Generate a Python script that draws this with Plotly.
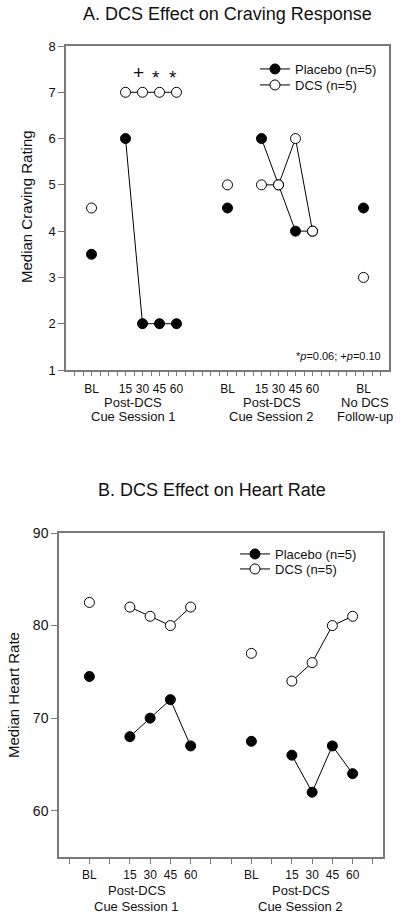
import plotly.graph_objects as go

FONT = "Arial, Liberation Sans, sans-serif"
W, H = 400, 918

# ---------------- Panel A data: craving ----------------
a_positions = [1, 3, 4, 5, 6, 9, 11, 12, 13, 14, 17]
a_segments = [0, 1, 1, 1, 1, 2, 3, 3, 3, 3, 4]
a_placebo = [3.5, 6, 2, 2, 2, 4.5, 6, 5, 4, 4, 4.5]
a_dcs = [4.5, 7, 7, 7, 7, 5, 5, 5, 6, 4, 3]
a_tick_labels = ["BL", "15", "30", "45", "60", "BL", "15", "30", "45", "60", "BL"]
a_group_centers = [3.45, 11.6, 17.1]
a_group_line1 = ["Post-DCS", "Post-DCS", "No DCS"]
a_group_line2 = ["Cue Session 1", "Cue Session 2", "Follow-up"]
a_sig_positions = [4, 5, 6]
a_sig_labels = ["+", "*", "*"]
a_sig_values = [7.42, 7.32, 7.32]
a_yticks = [1, 2, 3, 4, 5, 6, 7, 8]

# ---------------- Panel B data: heart rate ----------------
b_positions = [1, 3, 4, 5, 6, 9, 11, 12, 13, 14]
b_segments = [0, 1, 1, 1, 1, 2, 3, 3, 3, 3]
b_placebo = [74.5, 68, 70, 72, 67, 67.5, 66, 62, 67, 64]
b_dcs = [82.5, 82, 81, 80, 82, 77, 74, 76, 80, 81]
b_tick_labels = ["BL", "15", "30", "45", "60", "BL", "15", "30", "45", "60"]
b_group_centers = [3.35, 11.45]
b_group_line1 = ["Post-DCS", "Post-DCS"]
b_group_line2 = ["Cue Session 1", "Cue Session 2"]
b_yticks = [60, 70, 80, 90]

series_names = ["Placebo (n=5)", "DCS (n=5)"]


def gapped(xs, ys, segs):
    ox, oy = [], []
    prev = None
    for x, y, s in zip(xs, ys, segs):
        if prev is not None and s != prev:
            ox.append(None)
            oy.append(None)
        ox.append(x)
        oy.append(y)
        prev = s
    return ox, oy


fig = go.Figure()

AX_COLOR = "#7a7a7a"
TXT = "#111"


def add_series(xs, ys, segs, name, filled, xa, ya, legend):
    gx, gy = gapped(xs, ys, segs)
    fig.add_trace(go.Scatter(
        x=gx, y=gy, mode="lines+markers", name=name,
        xaxis=xa, yaxis=ya, legend=legend, connectgaps=False,
        line=dict(color="black", width=1),
        marker=dict(size=10, color="black" if filled else "white",
                    line=dict(color="black", width=1)),
        cliponaxis=False,
    ))


add_series(a_positions, a_placebo, a_segments, series_names[0], True, "x", "y", "legend")
add_series(a_positions, a_dcs, a_segments, series_names[1], False, "x", "y", "legend2")
add_series(b_positions, b_placebo, b_segments, series_names[0], True, "x2", "y2", "legend3")
add_series(b_positions, b_dcs, b_segments, series_names[1], False, "x2", "y2", "legend4")


def tick_map(minv, maxv, step, positions, labels):
    vals, texts = [], []
    n = int(round((maxv - minv) / step))
    lab = dict(zip(positions, labels))
    for i in range(n + 1):
        v = minv + i * step
        vals.append(v)
        texts.append(lab.get(v, ""))
    return vals, texts


a_tv, a_tt = tick_map(0, 18, 0.5, a_positions, a_tick_labels)
b_tv, b_tt = tick_map(0, 15, 1, b_positions, b_tick_labels)


def axis(**kw):
    d = dict(showline=True, linecolor=AX_COLOR, linewidth=1.5, mirror=True,
             ticks="outside", tickcolor=AX_COLOR, tickwidth=1, showgrid=False,
             zeroline=False, automargin=False, tickmode="array", fixedrange=True)
    d.update(kw)
    return d


def legend_at(xpx, ypx):
    return dict(x=xpx / W, y=1 - ypx / H, xanchor="left", yanchor="middle",
                bgcolor="rgba(0,0,0,0)", borderwidth=0,
                font=dict(family=FONT, size=13, color=TXT))


fig.update_layout(
    width=W, height=H, autosize=False,
    margin=dict(l=0, r=0, t=0, b=0, pad=0, autoexpand=False),
    paper_bgcolor="white", plot_bgcolor="white",
    font=dict(family=FONT, color=TXT),
    xaxis=axis(domain=[66 / W, 389 / W], range=[-0.5, 18.5], tickvals=a_tv, ticktext=a_tt,
               ticklen=4, anchor="y", ticklabelstandoff=3,
               tickfont=dict(family=FONT, size=12, color=TXT)),
    yaxis=axis(domain=[1 - 370 / H, 1 - 46 / H], range=[1, 8], tickvals=a_yticks,
               ticklen=6, anchor="x", tickfont=dict(family=FONT, size=13, color=TXT)),
    xaxis2=axis(domain=[59 / W, 383 / W], range=[-0.5, 15.5], tickvals=b_tv, ticktext=b_tt,
                ticklen=5, anchor="y2", ticklabelstandoff=1,
                tickfont=dict(family=FONT, size=12, color=TXT)),
    yaxis2=axis(domain=[1 - 857 / H, 1 - 533 / H], range=[55, 90], tickvals=b_yticks,
                ticklen=6, anchor="x2", tickfont=dict(family=FONT, size=14, color=TXT)),
    legend=legend_at(255, 69),
    legend2=legend_at(255, 85),
    legend3=legend_at(235, 554),
    legend4=legend_at(235, 569),
    showlegend=True,
)

ann = []
ann.append(dict(text="A. DCS Effect on Craving Response", x=227 / W, y=1 - 14 / H,
                xref="paper", yref="paper", showarrow=False, xanchor="center", yanchor="middle",
                font=dict(family=FONT, size=18, color=TXT)))
ann.append(dict(text="B. DCS Effect on Heart Rate", x=212 / W, y=1 - 490 / H,
                xref="paper", yref="paper", showarrow=False, xanchor="center", yanchor="middle",
                font=dict(family=FONT, size=18, color=TXT)))
ann.append(dict(text="Median Craving Rating", x=27 / W, y=1 - 207 / H, textangle=-90,
                xref="paper", yref="paper", showarrow=False, xanchor="center", yanchor="middle",
                font=dict(family=FONT, size=15, color=TXT)))
ann.append(dict(text="Median Heart Rate", x=13 / W, y=1 - 695 / H, textangle=-90,
                xref="paper", yref="paper", showarrow=False, xanchor="center", yanchor="middle",
                font=dict(family=FONT, size=15, color=TXT)))
for cx, l1, l2 in zip(a_group_centers, a_group_line1, a_group_line2):
    ann.append(dict(text=l1, x=cx, xref="x", y=1 - 402 / H, yref="paper", showarrow=False,
                    xanchor="center", yanchor="middle", font=dict(family=FONT, size=13, color=TXT)))
    ann.append(dict(text=l2, x=cx, xref="x", y=1 - 417 / H, yref="paper", showarrow=False,
                    xanchor="center", yanchor="middle", font=dict(family=FONT, size=13, color=TXT)))
for cx, l1, l2 in zip(b_group_centers, b_group_line1, b_group_line2):
    ann.append(dict(text=l1, x=cx, xref="x2", y=1 - 890 / H, yref="paper", showarrow=False,
                    xanchor="center", yanchor="middle", font=dict(family=FONT, size=13, color=TXT)))
    ann.append(dict(text=l2, x=cx, xref="x2", y=1 - 906 / H, yref="paper", showarrow=False,
                    xanchor="center", yanchor="middle", font=dict(family=FONT, size=13, color=TXT)))
for px, lab, py in zip(a_sig_positions, a_sig_labels, a_sig_values):
    ann.append(dict(text=lab, x=px, y=py, xref="x", yref="y", showarrow=False,
                    xanchor="center", yanchor="middle", xshift=-4,
                    font=dict(family=FONT, size=19, color=TXT)))
ann.append(dict(text="*<i>p</i>=0.06; +<i>p</i>=0.10", x=383 / W, y=1 - 356 / H,
                xref="paper", yref="paper", showarrow=False, xanchor="right", yanchor="middle",
                font=dict(family=FONT, size=11, color=TXT)))

fig.update_layout(annotations=ann)
fig.write_html(
    "out.html",
    config={"displayModeBar": False},
    post_script="document.body.style.margin='0';document.body.style.padding='0';"
                "document.documentElement.style.overflow='hidden';",
)
